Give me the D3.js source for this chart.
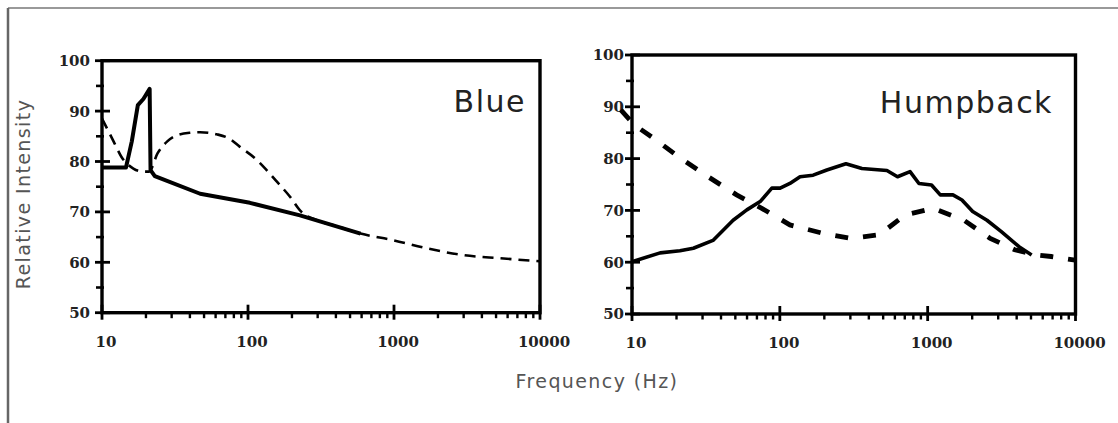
<!DOCTYPE html>
<html><head><meta charset="utf-8">
<script src="https://cdn.jsdelivr.net/npm/d3@7"></script>
<style>body{margin:0;background:#fff} svg{display:block}</style>
</head><body><svg id="c" width="1118" height="423"></svg>
<script>
// ---- data ----
const xTickValues = [10, 100, 1000, 10000];
const xTickLabels = ["10", "100", "1000", "10000"];
const yTickValues = [50, 60, 70, 80, 90, 100];
const yTickLabels = ["50", "60", "70", "80", "90", "100"];
const panelTitles = ["Blue", "Humpback"];
const xAxisTitle = "Frequency (Hz)";
const yAxisTitle = "Relative Intensity";

const blueSolidHz = [10, 14.6, 16, 17.6, 19.2, 21.2, 21.5, 23, 47, 103, 227, 590];
const blueSolidDb = [78.8, 78.8, 84, 91.2, 92.4, 94.4, 78.3, 77.1, 73.6, 71.8, 69.3, 65.7];
const blueDashHz = [10, 12, 13.6, 16.4, 19, 21, 24, 28, 32.5, 40, 47, 61, 75, 88, 110, 134, 160, 194, 227, 300, 400, 590, 984, 1726, 3020, 5320, 10000];
const blueDashDb = [88.5, 84, 80.9, 78.6, 78, 78, 81.6, 84, 85.2, 85.7, 85.8, 85.4, 84.5, 82.9, 80.8, 78.3, 75.8, 73, 70.3, 68.3, 67.2, 65.7, 64.4, 62.7, 61.4, 60.8, 60.2];

const humpSolidHz = [10, 15.5, 21.1, 26, 35.3, 48.3, 59.8, 73.6, 88.3, 100.5, 117, 137, 168, 208, 280, 359, 530, 625, 760, 873, 1062, 1217, 1482, 1706, 2016, 2518, 3150, 4150, 5050];
const humpSolidDb = [60.1, 61.8, 62.2, 62.7, 64.2, 68.1, 70.1, 71.7, 74.3, 74.3, 75.2, 76.5, 76.8, 77.8, 79.0, 78.1, 77.7, 76.5, 77.5, 75.2, 74.9, 73, 73, 72, 69.8, 68.1, 65.9, 63, 61.4];
const humpDashHz = [8.4, 10.4, 15, 21.2, 32.7, 51, 75.5, 117, 194, 302, 472, 700, 1090, 1760, 2650, 3880, 5500, 6850, 9950];
const humpDashDb = [89.4, 86.5, 83.3, 80.1, 76.5, 73, 70.4, 67.2, 65.6, 64.6, 65.3, 69.1, 70.4, 68.1, 64.6, 62.4, 61.4, 61.1, 60.4];

// ---- drawing ----
const svg = d3.select("#c");
const zip = (a, b) => a.map((v, i) => [v, b[i]]);

// outer frame (top + left only)
svg.append("line").attr("x1", 8).attr("y1", 8).attr("x2", 1118).attr("y2", 8)
  .attr("stroke", "#777").attr("stroke-width", 1.5);
svg.append("line").attr("x1", 8).attr("y1", 8).attr("x2", 8).attr("y2", 423)
  .attr("stroke", "#666").attr("stroke-width", 2.5);

const panels = [
  {x0: 102, x1: 540, y0: 60.7, y1: 312.7, title: panelTitles[0], titleX: 526, titleY: 112, labelGap: 12,
   solid: zip(blueSolidHz, blueSolidDb), dash: zip(blueDashHz, blueDashDb),
   solidW: 4, dashW: 2.6, dashArr: "11,7", dashCurve: d3.curveMonotoneX},
  {x0: 632, x1: 1075.5, y0: 55, y1: 314, title: panelTitles[1], titleX: 1053, titleY: 113, labelGap: 8,
   solid: zip(humpSolidHz, humpSolidDb), dash: zip(humpDashHz, humpDashDb),
   solidW: 3.6, dashW: 4.8, dashArr: "13,15", dashCurve: d3.curveLinear}
];

panels.forEach(p => {
  const x = d3.scaleLog().domain([10, 10000]).range([p.x0, p.x1]);
  const y = d3.scaleLinear().domain([50, 100]).range([p.y1, p.y0]);
  const g = svg.append("g");

  // y minor ticks
  const yMinor = d3.range(55, 100, 10);
  g.selectAll("line.ymin").data(yMinor).join("line").attr("class", "ymin")
    .attr("x1", p.x0 - 6).attr("x2", p.x0 + 2)
    .attr("y1", d => y(d)).attr("y2", d => y(d))
    .attr("stroke", "#000").attr("stroke-width", 2.6);
  // y major ticks
  g.selectAll("line.ymaj").data(yTickValues).join("line").attr("class", "ymaj")
    .attr("x1", p.x0 - 7).attr("x2", p.x0 + 8)
    .attr("y1", d => y(d)).attr("y2", d => y(d))
    .attr("stroke", "#000").attr("stroke-width", 2.8);
  // x minor ticks
  const xMinor = [];
  [10, 100, 1000].forEach(dec => { for (let k = 2; k <= 9; k++) xMinor.push(dec * k); });
  g.selectAll("line.xmin").data(xMinor).join("line").attr("class", "xmin")
    .attr("x1", d => x(d)).attr("x2", d => x(d))
    .attr("y1", p.y1).attr("y2", p.y1 + 5.5)
    .attr("stroke", "#000").attr("stroke-width", 2.4);
  // x major ticks
  g.selectAll("line.xmaj").data(xTickValues).join("line").attr("class", "xmaj")
    .attr("x1", d => x(d)).attr("x2", d => x(d))
    .attr("y1", p.y1 - 8).attr("y2", p.y1 + 7)
    .attr("stroke", "#000").attr("stroke-width", 2.8);

  // frame
  g.append("rect").attr("x", p.x0).attr("y", p.y0)
    .attr("width", p.x1 - p.x0).attr("height", p.y1 - p.y0)
    .attr("fill", "none").attr("stroke", "#000").attr("stroke-width", 3.4);

  // tick labels
  g.selectAll("text.yl").data(yTickValues).join("text").attr("class", "yl")
    .attr("x", p.x0 - p.labelGap).attr("y", d => y(d))
    .attr("dy", "0.36em").attr("text-anchor", "end")
    .attr("font-family", "DejaVu Serif").attr("font-size", 15).attr("font-weight", "bold")
    .attr("fill", "#222")
    .text((d, i) => yTickLabels[i]);
  g.selectAll("text.xl").data(xTickValues).join("text").attr("class", "xl")
    .attr("x", d => x(d) + 4).attr("y", p.y1 + 34)
    .attr("text-anchor", "middle")
    .attr("font-family", "DejaVu Serif").attr("font-size", 15).attr("font-weight", "bold")
    .attr("fill", "#222")
    .text((d, i) => xTickLabels[i]);

  // lines
  const line = d3.line().x(d => x(d[0])).y(d => y(d[1]));
  g.append("path").datum(p.dash)
    .attr("d", line.curve(p.dashCurve))
    .attr("fill", "none").attr("stroke", "#000")
    .attr("stroke-width", p.dashW).attr("stroke-dasharray", p.dashArr);
  g.append("path").datum(p.solid)
    .attr("d", d3.line().x(d => x(d[0])).y(d => y(d[1])))
    .attr("fill", "none").attr("stroke", "#000")
    .attr("stroke-width", p.solidW).attr("stroke-linejoin", "round");

  // panel title
  g.append("text").attr("x", p.titleX).attr("y", p.titleY)
    .attr("text-anchor", "end")
    .attr("font-family", "DejaVu Sans").attr("font-size", 30)
    .attr("letter-spacing", 1.5)
    .attr("fill", "#222").text(p.title);
});

// axis titles
svg.append("text")
  .attr("transform", "translate(30,194) rotate(-90)")
  .attr("text-anchor", "middle")
  .attr("font-family", "DejaVu Sans").attr("font-size", 19)
  .attr("letter-spacing", 1.4)
  .attr("fill", "#555").text(yAxisTitle);
svg.append("text")
  .attr("x", 597).attr("y", 388)
  .attr("text-anchor", "middle")
  .attr("font-family", "DejaVu Sans").attr("font-size", 19)
  .attr("letter-spacing", 1.4)
  .attr("fill", "#555").text(xAxisTitle);
</script>
</body></html>
